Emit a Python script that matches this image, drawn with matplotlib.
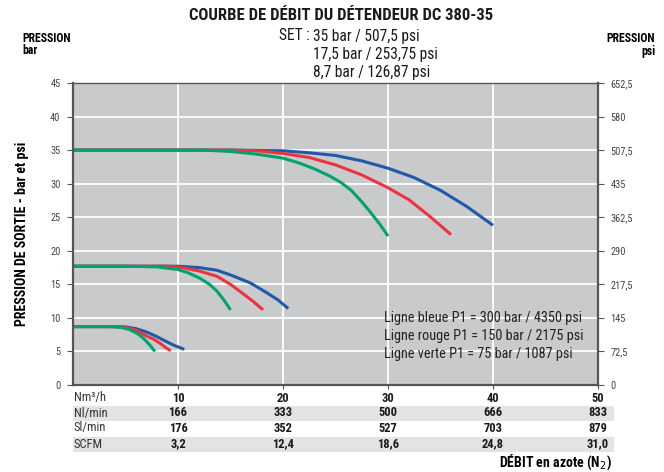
import numpy as np
import matplotlib
matplotlib.use("Agg")
import matplotlib.pyplot as plt
import matplotlib.transforms as mtransforms
from matplotlib.patches import Rectangle

plt.rcParams['font.family'] = ['Roboto Condensed', 'DejaVu Sans']

# flow curves (x = Nm3/h, y = bar)
blue_35_x = [0, 5, 10, 15, 20, 22.5, 25, 27.5, 30, 32.5, 35, 37.5, 40]
blue_35_y = [35, 35, 35, 35, 34.9, 34.6, 34.2, 33.4, 32.3, 30.9, 29.0, 26.6, 23.8]
red_35_x = [0, 10, 15, 17.5, 20, 22.5, 25, 27.5, 30, 32, 34, 36]
red_35_y = [35, 35, 35, 34.9, 34.5, 33.9, 32.8, 31.3, 29.4, 27.6, 25.1, 22.4]
green_35_x = [0, 10, 12.5, 15, 17.5, 20, 21.5, 23, 24.5, 25.5, 26.5, 27.5, 28.3, 29.2, 30]
green_35_y = [35, 35, 35, 34.8, 34.4, 33.8, 33.1, 32.2, 31.1, 30.2, 29.0, 27.3, 25.8, 24.0, 22.2]

blue_17_x = [0, 5, 10, 12, 13.7, 15, 16.9, 18.4, 19.5, 20.5]
blue_17_y = [17.7, 17.7, 17.7, 17.5, 17.1, 16.4, 15.2, 13.8, 12.7, 11.4]
red_17_x = [0, 5, 9, 10, 12, 13.7, 15, 16.2, 17.2, 18.1]
red_17_y = [17.7, 17.7, 17.7, 17.6, 17.0, 16.2, 15.0, 13.6, 12.4, 11.2]
green_17_x = [0, 5, 8, 10, 11, 12.1, 13, 13.7, 14.4, 15.0]
green_17_y = [17.7, 17.7, 17.6, 17.2, 16.7, 15.9, 15.0, 14.0, 12.6, 11.2]

blue_8_x = [0, 4, 5, 6, 7, 8, 8.6, 9.5, 10.6]
blue_8_y = [8.7, 8.7, 8.65, 8.4, 7.9, 7.2, 6.7, 6.0, 5.3]
red_8_x = [0, 4, 5, 6, 7, 7.7, 8.3, 8.8, 9.3]
red_8_y = [8.7, 8.7, 8.6, 8.2, 7.3, 6.8, 6.2, 5.6, 5.1]
green_8_x = [0, 3.5, 4.5, 5.3, 6.1, 6.6, 7.0, 7.4, 7.8]
green_8_y = [8.7, 8.7, 8.6, 8.3, 7.7, 7.1, 6.5, 5.8, 5.0]

bar_ticks = [0, 5, 10, 15, 20, 25, 30, 35, 40, 45]
psi_labels = ['0', '72,5', '145', '217,5', '290', '362,5', '435', '507,5', '580', '652,5']

flow_ticks = [10, 20, 30, 40, 50]
row_names = ['Nm³/h', 'Nl/min', 'Sl/min', 'SCFM']
row_values = [
    ['10', '20', '30', '40', '50'],
    ['166', '333', '500', '666', '833'],
    ['176', '352', '527', '703', '879'],
    ['3,2', '12,4', '18,6', '24,8', '31,0'],
]

legend_lines = ['Ligne bleue P1 = 300 bar / 4350 psi',
                'Ligne rouge P1 = 150 bar / 2175 psi',
                'Ligne verte P1 = 75 bar / 1087 psi']

BLUE = '#1f59a9'
RED = '#ec3440'
GREEN = '#00a36c'

W, H = 664, 472
fig = plt.figure(figsize=(W / 100, H / 100), dpi=100)
ax = fig.add_axes([73 / W, 1 - 385 / H, 525 / W, 302 / H])
ax.set_facecolor('#c9cacc')
ax.set_xlim(0, 50)
ax.set_ylim(0, 45)
ax.set_yticks(bar_ticks)
ax.set_xticks(flow_ticks)
ax.set_xticklabels([])
ax.grid(True, color='white', lw=1.3)
ax.set_axisbelow(True)
for s in ax.spines.values():
    s.set_color('#555555')
    s.set_linewidth(1.6)
ax.spines['top'].set_linewidth(1.0)
ax.tick_params(axis='y', direction='out', length=4, color='#555555',
               labelsize=7.5, labelcolor='#444444', pad=5)
ax.tick_params(axis='x', direction='out', length=3, color='#555555')

ax2 = ax.twinx()
ax2.set_ylim(0, 45)
ax2.set_yticks(bar_ticks)
ax2.set_yticklabels(psi_labels)
ax2.tick_params(axis='y', direction='out', length=4, color='#555555',
                labelsize=7.5, labelcolor='#444444', pad=5)
for s in ax2.spines.values():
    s.set_visible(False)

lw = 2.2
for xs, ys, c in [(blue_35_x, blue_35_y, BLUE), (red_35_x, red_35_y, RED),
                  (blue_17_x, blue_17_y, BLUE), (red_17_x, red_17_y, RED),
                  (blue_8_x, blue_8_y, BLUE), (red_8_x, red_8_y, RED),
                  (green_35_x, green_35_y, GREEN), (green_17_x, green_17_y, GREEN),
                  (green_8_x, green_8_y, GREEN)]:
    ax.plot(xs, ys, color=c, lw=lw, solid_capstyle='butt', clip_on=False)

for i, t in enumerate(legend_lines):
    ax.text(0.592, 0.222 - i * 0.060, t, transform=ax.transAxes,
            fontsize=10.3, color='#222222', va='center', ha='left')

# titles
fig.text(341 / W, 1 - 15 / H, 'COURBE DE DÉBIT DU DÉTENDEUR DC 380-35',
         fontsize=12, fontweight='bold', ha='center', va='center', color='#1a1a1a')
fig.text(313 / W, 1 - 36 / H, 'SET : ', fontsize=11.2, ha='right', va='center', color='#1a1a1a')
sub = ['35 bar / 507,5 psi', '17,5 bar / 253,75 psi', '8,7 bar / 126,87 psi']
for i, t in enumerate(sub):
    fig.text(313 / W, 1 - (36 + i * 18) / H, t, fontsize=11.2, ha='left',
             va='center', color='#1a1a1a')
fig.text(22 / W, 1 - 38 / H, 'PRESSION', fontsize=8.5, fontweight='bold', ha='left', va='center')
fig.text(22 / W, 1 - 51 / H, 'bar', fontsize=8.5, fontweight='bold', ha='left', va='center')
fig.text(655 / W, 1 - 38 / H, 'PRESSION', fontsize=8.5, fontweight='bold', ha='right', va='center')
fig.text(655 / W, 1 - 51 / H, 'psi', fontsize=8.5, fontweight='bold', ha='right', va='center')
fig.text(22 / W, 1 - 234 / H, 'PRESSION DE SORTIE - bar et psi', fontsize=10,
         fontweight='bold', rotation=90, ha='center', va='center')

# flow table under the axis
trans = mtransforms.blended_transform_factory(ax.transData, fig.transFigure)
row_y = [398, 413, 428, 444]
for r, (name, vals, yy) in enumerate(zip(row_names, row_values, row_y)):
    if r % 2 == 1:
        fig.patches.append(Rectangle((73 / W, 1 - (yy + 7.5) / H), 541 / W, 15 / H,
                                     transform=fig.transFigure, facecolor='#e3e3e4',
                                     edgecolor='none', zorder=-5))
    fig.text(74 / W, 1 - yy / H, name, fontsize=9, ha='left', va='center', color='#333333')
    for x, v in zip(flow_ticks, vals):
        ax.text(x, 1 - yy / H, v, transform=trans, fontsize=9, fontweight='bold',
                ha='center', va='center', color='#1a1a1a')
fig.text(612 / W, 1 - 462 / H, 'DÉBIT en azote (N$_2$)', fontsize=10,
         fontweight='bold', ha='right', va='center')

fig.savefig('out.png', dpi=100)
